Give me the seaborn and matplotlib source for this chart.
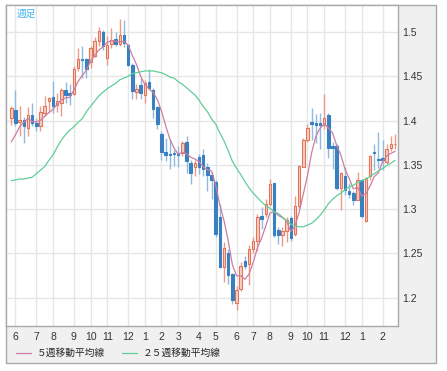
import numpy as np
import pandas as pd
import seaborn as sns
import matplotlib.pyplot as plt
from matplotlib.patches import Rectangle

# weekly candles
opens = [1.403, 1.412, 1.398, 1.401, 1.392, 1.406, 1.397, 1.394, 1.409, 1.422,
         1.427, 1.418, 1.420, 1.434, 1.431, 1.430, 1.459, 1.470, 1.469, 1.466,
         1.473, 1.490, 1.500, 1.471, 1.486, 1.492, 1.487, 1.497, 1.485, 1.463,
         1.432, 1.440, 1.429, 1.443, 1.435, 1.415, 1.385, 1.365, 1.362, 1.363,
         1.363, 1.363, 1.376, 1.352, 1.347, 1.359, 1.361, 1.347, 1.338, 1.331,
         1.291, 1.235, 1.250, 1.227, 1.194, 1.210, 1.241, 1.238, 1.255, 1.264,
         1.292, 1.294, 1.306, 1.329, 1.276, 1.271, 1.275, 1.290, 1.272, 1.303,
         1.348, 1.378, 1.398, 1.397, 1.397, 1.395, 1.406, 1.371, 1.371, 1.324,
         1.337, 1.320, 1.318, 1.310, 1.333, 1.287, 1.337, 1.365, 1.357, 1.358,
         1.353, 1.369, 1.373]
highs = [1.416, 1.434, 1.416, 1.404, 1.415, 1.420, 1.403, 1.417, 1.428, 1.427,
         1.445, 1.431, 1.437, 1.444, 1.441, 1.462, 1.482, 1.484, 1.471, 1.484,
         1.494, 1.506, 1.502, 1.495, 1.505, 1.500, 1.515, 1.513, 1.486, 1.465,
         1.441, 1.448, 1.446, 1.458, 1.437, 1.416, 1.388, 1.380, 1.379, 1.367,
         1.371, 1.377, 1.382, 1.356, 1.356, 1.362, 1.368, 1.352, 1.342, 1.333,
         1.306, 1.263, 1.255, 1.228, 1.213, 1.240, 1.247, 1.260, 1.269, 1.294,
         1.302, 1.311, 1.334, 1.330, 1.280, 1.280, 1.291, 1.292, 1.315, 1.350,
         1.380, 1.396, 1.414, 1.407, 1.408, 1.430, 1.409, 1.376, 1.373, 1.342,
         1.348, 1.330, 1.320, 1.342, 1.334, 1.336, 1.361, 1.374, 1.387, 1.378,
         1.374, 1.383, 1.385]
lows = [1.395, 1.394, 1.382, 1.375, 1.382, 1.394, 1.388, 1.388, 1.405, 1.410,
        1.409, 1.410, 1.405, 1.420, 1.418, 1.429, 1.456, 1.448, 1.448, 1.459,
        1.472, 1.484, 1.480, 1.463, 1.482, 1.484, 1.484, 1.483, 1.462, 1.424,
        1.424, 1.424, 1.420, 1.435, 1.403, 1.390, 1.356, 1.354, 1.345, 1.349,
        1.347, 1.360, 1.341, 1.328, 1.337, 1.340, 1.337, 1.320, 1.311, 1.268,
        1.233, 1.218, 1.215, 1.193, 1.186, 1.207, 1.232, 1.214, 1.251, 1.253,
        1.277, 1.291, 1.304, 1.269, 1.261, 1.258, 1.263, 1.264, 1.270, 1.301,
        1.347, 1.376, 1.378, 1.375, 1.368, 1.391, 1.358, 1.345, 1.322, 1.299,
        1.316, 1.312, 1.305, 1.310, 1.290, 1.286, 1.333, 1.344, 1.346, 1.344,
        1.351, 1.366, 1.368]
closes = [1.414, 1.397, 1.401, 1.394, 1.406, 1.397, 1.394, 1.410, 1.417, 1.426,
          1.417, 1.422, 1.434, 1.429, 1.429, 1.458, 1.470, 1.468, 1.458, 1.482,
          1.490, 1.501, 1.484, 1.485, 1.491, 1.487, 1.497, 1.488, 1.463, 1.433,
          1.436, 1.431, 1.442, 1.437, 1.413, 1.396, 1.365, 1.361, 1.361, 1.362,
          1.361, 1.375, 1.354, 1.341, 1.352, 1.347, 1.345, 1.338, 1.333, 1.272,
          1.235, 1.256, 1.226, 1.197, 1.209, 1.236, 1.236, 1.255, 1.264, 1.291,
          1.289, 1.306, 1.328, 1.271, 1.271, 1.275, 1.288, 1.267, 1.303, 1.349,
          1.378, 1.392, 1.396, 1.395, 1.395, 1.403, 1.369, 1.369, 1.324, 1.341,
          1.322, 1.317, 1.310, 1.333, 1.292, 1.335, 1.360, 1.363, 1.355, 1.355,
          1.368, 1.374, 1.374]
# closes of the 4 weeks before the visible window (for the 5-week average)
pre_closes = [1.357, 1.356, 1.369, 1.384]

ma25 = [1.332, 1.333, 1.334, 1.334, 1.335, 1.336, 1.340, 1.344, 1.348, 1.355,
        1.361, 1.370, 1.378, 1.384, 1.389, 1.393, 1.398, 1.402, 1.410, 1.416,
        1.422, 1.428, 1.432, 1.436, 1.439, 1.442, 1.446, 1.448, 1.450, 1.453,
        1.454, 1.455, 1.456, 1.456, 1.456, 1.455, 1.454, 1.452, 1.449, 1.448,
        1.444, 1.441, 1.437, 1.433, 1.429, 1.423, 1.416, 1.410, 1.402, 1.396,
        1.386, 1.377, 1.366, 1.354, 1.346, 1.339, 1.331, 1.324, 1.318, 1.313,
        1.308, 1.304, 1.301, 1.297, 1.295, 1.291, 1.287, 1.283, 1.281, 1.280,
        1.280, 1.282, 1.284, 1.288, 1.293, 1.299, 1.306, 1.311, 1.315, 1.318,
        1.322, 1.325, 1.327, 1.330, 1.332, 1.334, 1.337, 1.340, 1.343, 1.346,
        1.349, 1.352, 1.355]

month_pos = [1, 6, 10, 15, 19, 23, 28, 32, 36, 40, 45, 49, 54, 58, 62, 67, 71, 75, 80, 84, 89]
month_lbl = ["6", "7", "8", "9", "10", "11", "12", "1", "2", "3", "4",
             "5", "6", "7", "8", "9", "10", "11", "12", "1", "2"]
y_ticks = [1.2, 1.25, 1.3, 1.35, 1.4, 1.45, 1.5]
y_lbl = ["1.2", "1.25", "1.3", "1.35", "1.4", "1.45", "1.5"]

df = pd.DataFrame({"open": opens, "high": highs, "low": lows, "close": closes})
df["week"] = np.arange(len(df))
df["ma5"] = pd.Series(pre_closes + closes).rolling(5).mean().iloc[4:].values
df["ma25"] = ma25

sns.set_theme(style="white")
plt.rcParams['font.family'] = ['Liberation Sans', 'Noto Sans CJK JP', 'DejaVu Sans']

W, H = 447, 371
fig = plt.figure(figsize=(W / 100, H / 100), dpi=100)
fig.patch.set_facecolor('white')
frame = Rectangle((6 / W, 1 - 363 / H), 430 / W, 358 / H, transform=fig.transFigure,
                  facecolor='#f0f0f0', edgecolor='#a9a9a9', lw=1, zorder=-5)
fig.patches.append(frame)
ax = fig.add_axes([6 / W, 1 - 326 / H, 392 / W, 321 / H])
ax.set_zorder(2)
ax.set_facecolor('white')

up = df[df.close >= df.open]
dn = df[df.close < df.open]

ax.vlines(up.week, up.low, up.high, color='#ee9a86', lw=1, zorder=2)
ax.vlines(dn.week, dn.low, dn.high, color='#8fbbe0', lw=1, zorder=2)
ax.bar(up.week, up.close - up.open, bottom=up.open, width=0.6,
       color='#f8cfc2', edgecolor='#e2745c', lw=0.8, zorder=3)
ax.bar(dn.week, dn.open - dn.close, bottom=dn.close, width=0.6,
       color='#3a80c0', edgecolor='#3a80c0', lw=0.8, zorder=3)

sns.lineplot(data=df, x="week", y="ma5", ax=ax, color='#cc7ea2', lw=0.9,
             label='５週移動平均線', zorder=4)
sns.lineplot(data=df, x="week", y="ma25", ax=ax, color='#5fcf98', lw=0.9,
             label='２５週移動平均線', zorder=4)

ax.set_xlim(-1.27, 92.7)
ax.set_ylim(1.168, 1.5305)
ax.set_xlabel("")
ax.set_ylabel("")

ax.yaxis.tick_right()
ax.set_yticks(y_ticks, y_lbl)
ax.set_xticks(month_pos, month_lbl)
ax.tick_params(axis='y', length=0, pad=3, labelsize=7.5, labelcolor='#333333')
ax.tick_params(axis='x', length=0, pad=4, labelsize=7.5, labelcolor='#333333')
ax.grid(True, color='#e6e6e6', lw=1)
ax.set_axisbelow(True)
for sp in ax.spines.values():
    sp.set_color('#a9a9a9')
    sp.set_linewidth(1)

ax.text(11 / 392, 1 - 4 / 321, '週足', transform=ax.transAxes, ha='left', va='top',
        fontsize=7, color='#3db5ef', family=['Noto Sans CJK JP', 'DejaVu Sans'])

ax.legend(loc='center left', bbox_to_anchor=(16 / W, 1 - 353 / H), bbox_transform=fig.transFigure,
          ncol=2, frameon=False, borderpad=0, borderaxespad=0, handlelength=1.5,
          handletextpad=0.6, columnspacing=1.8,
          prop={'family': ['Noto Sans CJK JP', 'DejaVu Sans'], 'size': 7})

fig.savefig("out.png", dpi=100)
